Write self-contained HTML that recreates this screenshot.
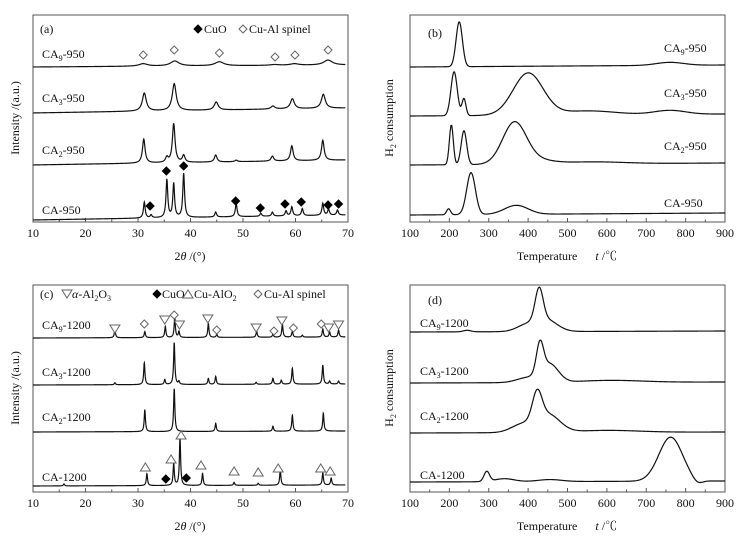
<!DOCTYPE html>
<html><head><meta charset="utf-8"><style>
body{margin:0;background:#fff;}
svg{display:block;font-family:"Liberation Serif","Noto Serif CJK SC",serif;}
</style></head><body>
<svg id="fig" width="754" height="540" viewBox="0 0 754 540"></svg>
<script>
// ---------- Panel (a) XRD 950 ----------
const aSeries = ["CA9-950","CA3-950","CA2-950","CA-950"];
const aBase = [67,113,165,220];
const aCenters = [[31,37,45.5,56,59.8,66.2],[31.2,36.9,44.9,55.7,59.4,65.3],[31.1,35.5,36.8,38.7,44.8,48.7,55.6,59.3,65.2],[31.2,32.5,35.5,36.8,38.7,44.8,48.7,53.4,55.6,58.2,59.3,61.3,65.2,66.3,68.0]];
const aHeights = [[2.5,5,4,0.8,1.5,5],[18,27,8,3,10,14],[24,5,39,7,7,1.5,5,15,20],[16,3,38,34,44,5,13,3,4,5,9,7,12,6,5]];
const aWidths = [1.0,0.45,0.3,0.2];
const aCuO = [[32.3,206],[35.4,171],[38.7,166],[48.6,201],[53.3,208],[58,204],[61.1,202],[66.2,205],[68.2,204]];
const aSpinel = [[31,55],[36.9,50],[45.5,53],[56.1,57],[59.9,55],[66.2,50]];
// ---------- Panel (b) TPR 950 ----------
const bBase = [67,116,165,215];
const bCenters = [[225,760],[212,237,400,550,760],[205,237,365,420,560],[198,255,370]];
const bHeights = [[45,3],[44,17,42,4,4],[40,34,41,4,2],[6,42,9]];
const bWidths = [[8,35],[8,5,38,70,40],[5,7,30,40,80],[5,11,30]];
// ---------- Panel (c) XRD 1200 ----------
const cBase = [338,385,432,486];
const cCenters = [[25.6,31.3,35.2,37.0,37.8,43.4,45,52.6,55.7,57.5,59.4,61.3,65.2,66.5,68.2],[25.6,31.2,35.1,36.9,37.8,43.4,44.8,52.5,55.7,57.3,59.4,65.2,66.5,68.2],[31.3,36.9,44.8,55.7,59.4,65.3],[15.9,31.7,36.8,38.0,42.3,48.3,52.9,57.1,65.2,66.8]];
const cHeights = [[8,6,11,20,6,14,3,6,3,13,6,2,8,5,7],[2,22,5,42,3,6,8,2,6,4,16,19,3,3],[22,43,8,5,16,18],[2,12,22,48,12,3,2,15,12,7]];
const cWidth = 0.14;
const cTriDown = [[25.6,329],[35.1,320],[37.9,325],[43.3,319],[52.5,328],[57.4,321],[66.3,328],[68.2,325]];
const cSpinel = [[31.2,324],[36.9,315],[45.0,330],[55.9,331],[59.6,328],[64.9,324]];
const cTriUp = [[31.4,467],[36.3,459],[38.2,435],[42.0,465],[48.3,471],[52.9,472],[56.7,468],[64.8,468],[66.6,471]];
const cCuO = [[35.3,479],[39.2,478]];
// ---------- Panel (d) TPR 1200 ----------
const dBase = [332,383,433,482];
const dCenters = [[428,445,395,245],[430,455,400,610],[423,450,385,600],[295,340,455,762,830]];
const dHeights = [[32,12,6,1.5],[30,18,5,2],[28,18,8,2],[10,3,2,44,-4]];
const dWidths = [[10,28,25,10],[9,22,28,80],[12,30,28,80],[7,25,30,30,12]];

const NS="http://www.w3.org/2000/svg";
const svg=document.getElementById('fig');
const FS=12;
function mk(tag,attrs,parent){const e=document.createElementNS(NS,tag);for(const k in attrs)e.setAttribute(k,attrs[k]);(parent||svg).appendChild(e);return e;}
function txt(x,y,s,size,anchor,parent){const t=mk('text',{x:x,y:y,'font-size':size||FS,'text-anchor':anchor||'start',fill:'#111'},parent);t.innerHTML=s;return t;}

function axisFns(x0,x1,d0,d1){return v=>x0+(v-d0)/(d1-d0)*(x1-x0);}
function frame(L,R,T,B,d0,d1,major,minor,name){
  const g=mk('g',{});
  
  
  mk('rect',{x:L,y:T,width:R-L,height:B-T,fill:'none',stroke:'#555','stroke-width':1},g);
  const sx=axisFns(L,R,d0,d1);
  for(let v=d0;v<=d1+1e-9;v+=minor){
    const isMaj=Math.abs(((v-d0)/major)-Math.round((v-d0)/major))<1e-6;
    mk('line',{x1:sx(v),x2:sx(v),y1:B,y2:B-(isMaj?4:2.5),stroke:'#555','stroke-width':1},g);
    if(isMaj){const t=txt(sx(v),B+15,String(v),FS,'middle',g);
      
      }
  }
  return sx;
}
function curve(sx,x0,x1,step,base,slope,centers,heights,widths,gauss,name){
  let d='';
  for(let v=x0;v<=x1+1e-9;v+=step){
    let y=0;
    for(let i=0;i<centers.length;i++){
      const w=Array.isArray(widths)?widths[i]:widths;
      const u=(v-centers[i])/w;
      y+=heights[i]*(gauss?Math.exp(-0.5*u*u):1/(1+u*u));
    }
    const py=base+slope*(x1-v)-y;
    d+=(d?'L':'M')+sx(v).toFixed(2)+','+py.toFixed(2);
  }
  const p=mk('path',{d:d,fill:'none',stroke:'#111','stroke-width':1.2});
  
  
}
function marker(type,x,y,name){
  let e;
  const s=4;
  if(type==='dfill'||type==='dopen'){
    e=mk('polygon',{points:`${x},${y-s} ${x+s},${y} ${x},${y+s} ${x-s},${y}`,fill:type==='dfill'?'#000':'#fff',stroke:type==='dfill'?'#000':'#666','stroke-width':1});
  }else if(type==='tdown'){
    e=mk('polygon',{points:`${x-5},${y-4} ${x+5},${y-4} ${x},${y+4}`,fill:'#fff',stroke:'#666','stroke-width':1});
  }else{
    e=mk('polygon',{points:`${x-5},${y+4} ${x+5},${y+4} ${x},${y-4}`,fill:'#fff',stroke:'#666','stroke-width':1});
  }
  
  
}
function sub(n){return `CA<tspan font-size="8" dy="3">${n}</tspan><tspan dy="-3">`;}

// ===== Panel a =====
let sx=frame(33,348,15,222,10,70,10,5,'panel-a-axes');
aSeries.forEach((s,i)=>curve(sx,10,69.5,0.05,aBase[i]-(i==0?2:5),(i==0?2:5)/60,aCenters[i],aHeights[i],aWidths[i],false,'xrd-950-'+s.toLowerCase()));
aCuO.forEach(p=>marker('dfill',sx(p[0]),p[1],'cuo-marker'));
aSpinel.forEach(p=>marker('dopen',sx(p[0]),p[1],'spinel-marker'));
txt(40,33,'(a)');
marker('dfill',198,29,'legend-cuo-symbol');
txt(204,33,'CuO');
marker('dopen',243,29,'legend-spinel-symbol');
txt(249,33,'Cu-Al spinel');
txt(42,58,sub(9)+'-950</tspan>');
txt(42,102,sub(3)+'-950</tspan>');
txt(42,154,sub(2)+'-950</tspan>');
txt(42,214,'CA-950');
txt(190,260,'2<tspan font-style="italic">θ</tspan> /(°)',FS,'middle');
let t=txt(0,0,'Intensity /(a.u.)',FS,'middle');t.setAttribute('transform','translate(19,118) rotate(-90)');


// ===== Panel b =====
sx=frame(410,725,15,222,100,900,100,50,'panel-b-axes');
bBase.forEach((b,i)=>curve(sx,100,900,2,b-2,2/800,bCenters[i],bHeights[i],bWidths[i],true,'tpr-950-'+i));
txt(428,37,'(b)');
txt(664,52,sub(9)+'-950</tspan>');
txt(664,97,sub(3)+'-950</tspan>');
txt(664,150,sub(2)+'-950</tspan>');
txt(664,207,'CA-950');
txt(567,260,'Temperature&#160;&#160;&#160;&#160;&#160;&#160;<tspan font-style="italic">t</tspan> /℃',FS,'middle');
t=txt(0,0,'H<tspan font-size="8" dy="3">2</tspan><tspan dy="-3"> consumption</tspan>',FS,'middle');t.setAttribute('transform','translate(393,118) rotate(-90)');

// ===== Panel c =====
sx=frame(33,348,285,492,10,70,10,5,'panel-c-axes');
cBase.forEach((b,i)=>curve(sx,10,69.5,0.03,b-1,1/60,cCenters[i],cHeights[i],cWidth,false,'xrd-1200-'+i));
cTriDown.forEach(p=>marker('tdown',sx(p[0]),p[1],'alumina-marker'));
cSpinel.forEach(p=>marker('dopen',sx(p[0]),p[1],'spinel-marker'));
cTriUp.forEach(p=>marker('tup',sx(p[0]),p[1],'cualo2-marker'));
cCuO.forEach(p=>marker('dfill',sx(p[0]),p[1],'cuo-marker'));
txt(40,298,'(c)');
marker('tdown',67,294,'legend-alumina-symbol');
txt(72,298,'<tspan font-style="italic">α</tspan>-Al<tspan font-size="8" dy="3">2</tspan><tspan dy="-3">O</tspan><tspan font-size="8" dy="3">3</tspan>');
marker('dfill',157,294,'legend-cuo-symbol');
txt(162,298,'CuO');
marker('tup',188,294,'legend-cualo2-symbol');
txt(194,298,'Cu-AlO<tspan font-size="8" dy="3">2</tspan>');
marker('dopen',258,294,'legend-spinel-symbol');
txt(264,298,'Cu-Al spinel');
txt(42,329,sub(9)+'-1200</tspan>');
txt(42,376,sub(3)+'-1200</tspan>');
txt(42,421,sub(2)+'-1200</tspan>');
txt(42,481,'CA-1200');
txt(190,530,'2<tspan font-style="italic">θ</tspan> /(°)',FS,'middle');
t=txt(0,0,'Intensity /(a.u.)',FS,'middle');t.setAttribute('transform','translate(19,388) rotate(-90)');

// ===== Panel d =====
sx=frame(410,725,285,492,100,900,100,50,'panel-d-axes');
dBase.forEach((b,i)=>curve(sx,100,900,2,b-1,1/800,dCenters[i],dHeights[i],dWidths[i],true,'tpr-1200-'+i));
txt(428,304,'(d)');
txt(420,327,sub(9)+'-1200</tspan>');
txt(420,375,sub(3)+'-1200</tspan>');
txt(420,420,sub(2)+'-1200</tspan>');
txt(420,479,'CA-1200');
txt(567,530,'Temperature&#160;&#160;&#160;&#160;&#160;&#160;<tspan font-style="italic">t</tspan> /℃',FS,'middle');
t=txt(0,0,'H<tspan font-size="8" dy="3">2</tspan><tspan dy="-3"> consumption</tspan>',FS,'middle');t.setAttribute('transform','translate(393,388) rotate(-90)');
</script>
</body></html>
